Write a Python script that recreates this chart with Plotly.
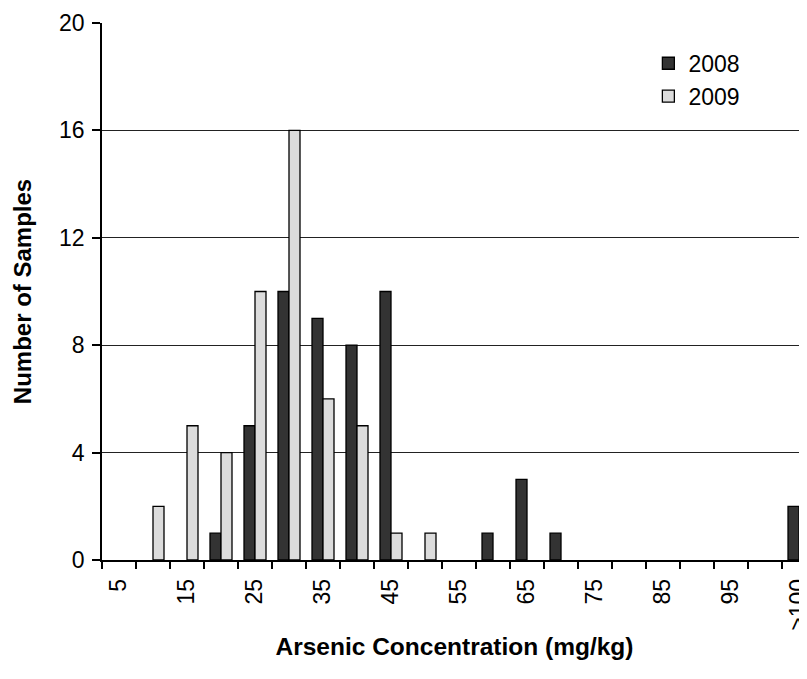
import plotly.graph_objects as go

categories = ["5", "10", "15", "20", "25", "30", "35", "40", "45", "50", "55",
              "60", "65", "70", "75", "80", "85", "90", "95", "100", ">100"]
counts_2008 = [0, 0, 0, 1, 5, 10, 9, 8, 10, 0, 0, 1, 3, 1, 0, 0, 0, 0, 0, 0, 2]
counts_2009 = [0, 2, 5, 4, 10, 16, 6, 5, 1, 1, 0, 0, 0, 0, 0, 0, 0, 0, 0, 0, 0]
y_ticks = [0, 4, 8, 12, 16, 20]

xpos = list(range(len(categories)))
label_idx = list(range(0, len(categories), 2))

font = "Arial, Liberation Sans, sans-serif"


def nonzero(vals):
    # empty bins draw no bar (and no outline) in the reference
    return [v if v > 0 else None for v in vals]


fig = go.Figure()
fig.add_trace(go.Bar(x=xpos, y=nonzero(counts_2008), name="2008",
                     marker=dict(color="#333333",
                                 line=dict(color="#000000", width=1.3))))
fig.add_trace(go.Bar(x=xpos, y=nonzero(counts_2009), name="2009",
                     marker=dict(color="#dcdcdc",
                                 line=dict(color="#000000", width=1.3))))

# page body has an 8px margin; compensate so the plot area lands where the reference has it
fig.update_layout(
    width=799, height=671,
    margin=dict(l=94, r=0, t=15, b=119, autoexpand=False),
    paper_bgcolor="white", plot_bgcolor="white",
    barmode="group", bargap=0.353, bargroupgap=0,
    font=dict(family=font, size=23, color="#000000"),
    legend=dict(x=0.775, y=0.965, xanchor="left", yanchor="top",
                bgcolor="rgba(0,0,0,0)", font=dict(size=23),
                itemwidth=30),
    showlegend=True,
)
fig.update_xaxes(
    range=[-0.5, 20.235],
    automargin=False,
    tickmode="array",
    tickvals=[xpos[i] for i in label_idx],
    ticktext=[categories[i] for i in label_idx],
    tickangle=-90,
    ticks="",
    ticklabelstandoff=8,
    ticklabeloverflow="allow",
    showgrid=False,
    showline=True, linecolor="#000000", linewidth=1.5,
    tickfont=dict(size=23),
    minor=dict(tick0=-0.5, dtick=1, ticks="outside", ticklen=7,
               tickcolor="#000000", tickwidth=1.5, showgrid=False),
    title=dict(text="<b>Arsenic Concentration (mg/kg)</b>", font=dict(size=24.5), standoff=8),
    zeroline=False,
)
fig.update_yaxes(
    range=[0, 20],
    automargin=False,
    tickmode="array", tickvals=y_ticks,
    ticks="outside", ticklen=8, tickcolor="#000000", tickwidth=1.5,
    ticklabelstandoff=3,
    showgrid=True, gridcolor="#222222", gridwidth=1.3,
    showline=True, linecolor="#000000", linewidth=1.5,
    tickfont=dict(size=23),
    title=dict(text="<b>Number of Samples</b>", font=dict(size=24), standoff=21),
    zeroline=False,
)

fig.write_html("out.html")
